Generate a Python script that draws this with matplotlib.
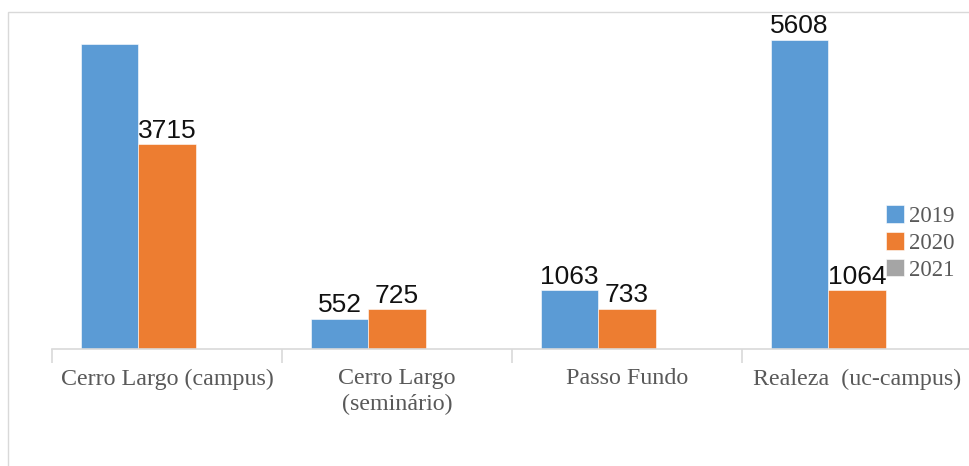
import matplotlib
matplotlib.use("Agg")
import matplotlib.pyplot as plt
import numpy as np
from matplotlib.patches import Rectangle

categories = ["Cerro Largo (campus)", "Cerro Largo\n(seminário)", "Passo Fundo", "Realeza  (uc-campus)"]
series_names = ["2019", "2020", "2021"]
v2019 = [5525, 552, 1063, 5608]
v2020 = [3715, 725, 733, 1064]
v2021 = [0, 0, 0, 0]
# which value labels are visible in the original
show2019 = [False, True, True, True]
show2020 = [True, True, True, True]
show2021 = [False, False, False, False]

colors = ["#5B9BD5", "#ED7D31", "#A5A5A5"]

W, H = 970, 466
fig = plt.figure(figsize=(W/100, H/100), dpi=100)
fig.patch.set_facecolor("white")
fig.add_artist(Rectangle((8/W, -0.05), 1.1, (H-12)/H + 0.05, transform=fig.transFigure,
                         fill=False, edgecolor="#d9d9d9", linewidth=1.0))

ax = fig.add_axes([52/W, (H-349)/H, 920/W, (349-18)/H])
x = np.arange(len(categories))
bw = 0.25
allvals = [v2019, v2020, v2021]
shows = [show2019, show2020, show2021]
for i, (vals, show) in enumerate(zip(allvals, shows)):
    bars = ax.bar(x + (i-1)*bw, vals, bw, color=colors[i], label=series_names[i],
                  edgecolor="white", linewidth=0.4, zorder=2)
    labels = [str(v) if s else "" for v, s in zip(vals, show)]
    ax.bar_label(bars, labels=labels, padding=1, fontsize=19,
                 family="Liberation Sans", color="#111111")

ax.set_xlim(-0.5, len(categories)-0.5)
ax.set_ylim(0, 6000)
for s in ["top", "right", "left"]:
    ax.spines[s].set_visible(False)
ax.spines["bottom"].set_color("#d9d9d9")
ax.spines["bottom"].set_linewidth(1.2)
ax.set_yticks([])
ax.set_xticks(x)
ax.set_xticklabels(categories, family="Liberation Serif", fontsize=17.3, color="#595959",
                   linespacing=1.3)
ax.tick_params(axis="x", which="major", length=0, pad=14)
ax.set_xticks(np.arange(-0.5, len(categories)), minor=True)
ax.tick_params(axis="x", which="minor", length=10, color="#d9d9d9", width=1.2)

leg = ax.legend(loc="center left", bbox_to_anchor=(886/W, (H-243)/H),
                bbox_transform=fig.transFigure, frameon=False,
                prop={"family": "Liberation Serif", "size": 16.5}, handlelength=0.8,
                handleheight=0.8, handletextpad=0.2, labelspacing=0.22, borderaxespad=0,
                borderpad=0)
for t in leg.get_texts():
    t.set_color("#595959")

fig.savefig("out.png", dpi=100)
